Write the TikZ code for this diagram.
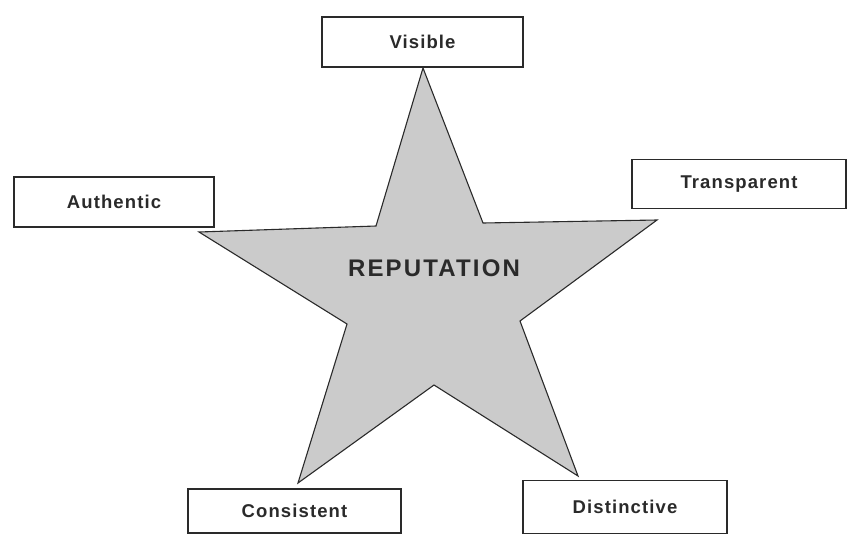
\documentclass[tikz,border=0pt]{standalone}
\usepackage{fontspec}
\setmainfont{Liberation Sans}
\usepackage{tikz}
\definecolor{StarGray}{HTML}{CBCBCB}
\definecolor{Ink}{HTML}{2A2A2A}
\begin{document}
\begin{tikzpicture}[x=1pt,y=-1pt,
    tagbox/.style={draw=Ink,line width=1.1pt,fill=white,inner sep=0pt,
      text=Ink,font=\fontsize{18.5}{20}\selectfont\bfseries\addfontfeature{LetterSpace=6}}]
  \useasboundingbox (0,0) rectangle (848,536);
  % the star
  \filldraw[fill=StarGray,draw=Ink,line width=1.1pt,line join=miter]
    (423,68) -- (483,223) -- (657,220) -- (520,321) -- (578,476)
    -- (434,385) -- (298,483) -- (347,324) -- (199,232) -- (376,226) -- cycle;
  \node[text=Ink,font=\fontsize{24}{26}\selectfont\bfseries\addfontfeature{LetterSpace=9}] (rep) at (434,268) {REPUTATION};
  % the five boxes
  \node[tagbox,minimum width=201pt,minimum height=50pt] (vis) at (422.5,42) {Visible};
  \node[tagbox,minimum width=200pt,minimum height=50pt] (aut) at (114,202) {Authentic};
  \node[tagbox,minimum width=214pt,minimum height=49pt] (tra) at (739,184) {Transparent};
  \node[tagbox,minimum width=213pt,minimum height=44pt] (con) at (294.5,511) {Consistent};
  \node[tagbox,minimum width=204pt,minimum height=53pt] (dis) at (625,507) {Distinctive};
\end{tikzpicture}
\end{document}
